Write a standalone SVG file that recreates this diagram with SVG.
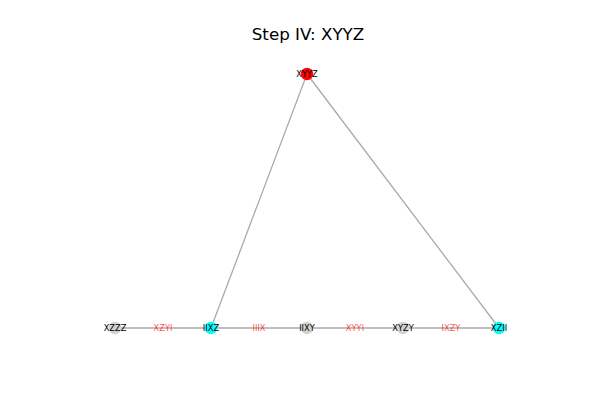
<svg xmlns="http://www.w3.org/2000/svg" width="600" height="400" viewBox="0 0 600 400">
<style>
.e{stroke:#aaaaaa;stroke-width:1.3;fill:none}
.nl{font-family:"DejaVu Sans",sans-serif;font-size:8.3px;fill:#000;text-anchor:middle;dominant-baseline:central}
.el{font-family:"DejaVu Sans",sans-serif;font-size:8.3px;fill:#ff0000;fill-opacity:0.7;text-anchor:middle;dominant-baseline:central}
.t{font-family:"DejaVu Sans",sans-serif;font-size:16.7px;fill:#000;text-anchor:middle}
</style>
<rect width="600" height="400" fill="#fff"/>
<text class="t" x="308" y="40">Step IV: XYYZ</text>
<g id="edges">
<line class="e" x1="115" y1="328" x2="211" y2="328"/>
<line class="e" x1="211" y1="328" x2="307" y2="328"/>
<line class="e" x1="307" y1="328" x2="403" y2="328"/>
<line class="e" x1="403" y1="328" x2="499" y2="328"/>
<line class="e" x1="307" y1="74" x2="211" y2="328"/>
<line class="e" x1="307" y1="74" x2="499" y2="328"/>
<text class="el" x="163" y="328">XZYI</text>
<text class="el" x="259" y="328">IIIX</text>
<text class="el" x="355" y="328">XYYI</text>
<text class="el" x="451" y="328">IXZY</text>
</g>
<g id="n_XYYZ"><circle cx="307" cy="74" r="6.2" fill="#ff0000"/><text class="nl" x="307" y="74">XYYZ</text></g>
<g id="n_XZZZ"><circle cx="115" cy="328" r="6.2" fill="#d3d3d3"/><text class="nl" x="115" y="328">XZZZ</text></g>
<g id="n_IIXZ"><circle cx="211" cy="328" r="6.2" fill="#00ffff"/><text class="nl" x="211" y="328">IIXZ</text></g>
<g id="n_IIXY"><circle cx="307" cy="328" r="6.2" fill="#d3d3d3"/><text class="nl" x="307" y="328">IIXY</text></g>
<g id="n_XYZY"><circle cx="403" cy="328" r="6.2" fill="#d3d3d3"/><text class="nl" x="403" y="328">XYZY</text></g>
<g id="n_XZII"><circle cx="499" cy="328" r="6.2" fill="#00ffff"/><text class="nl" x="499" y="328">XZII</text></g>
</svg>
